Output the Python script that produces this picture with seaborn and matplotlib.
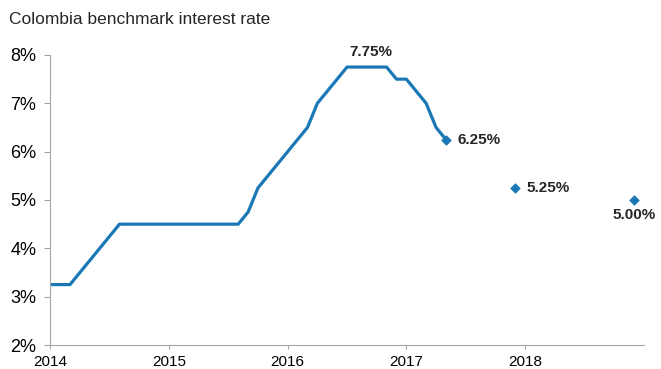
import matplotlib
matplotlib.use("Agg")
import matplotlib.pyplot as plt
import seaborn as sns
import pandas as pd
import numpy as np

# Monthly policy rate (month index counted from Jan 2014 = 0)
hist_month = [0, 1, 2, 3, 4, 5, 6, 7, 8, 9, 10, 11,
              12, 13, 14, 15, 16, 17, 18, 19, 20, 21, 22, 23,
              24, 25, 26, 27, 28, 29, 30, 31, 32, 33, 34, 35,
              36, 37, 38, 39, 40]
hist_rate = [3.25, 3.25, 3.25, 3.50, 3.75, 4.00, 4.25, 4.50, 4.50, 4.50, 4.50, 4.50,
             4.50, 4.50, 4.50, 4.50, 4.50, 4.50, 4.50, 4.50, 4.75, 5.25, 5.50, 5.75,
             6.00, 6.25, 6.50, 7.00, 7.25, 7.50, 7.75, 7.75, 7.75, 7.75, 7.75, 7.50,
             7.50, 7.25, 7.00, 6.50, 6.25]
point_month = [40, 47, 59]
point_rate = [6.25, 5.25, 5.00]
point_labels = ["6.25%", "5.25%", "5.00%"]
peak_label = "7.75%"
year_ticks = [2014, 2015, 2016, 2017, 2018]
y_ticks = [2, 3, 4, 5, 6, 7, 8]
title = "Colombia benchmark interest rate"

hist = pd.DataFrame({"x": 2014 + np.array(hist_month) / 12.0, "rate": hist_rate})
pts = pd.DataFrame({"x": 2014 + np.array(point_month) / 12.0, "rate": point_rate})

sns.set_style("white")
plt.rcParams["font.family"] = ["Liberation Sans", "DejaVu Sans"]
color = "#1A78B6"

fig = plt.figure(figsize=(6.61, 3.69), dpi=100)
ax = fig.add_axes([0.076, 0.065, 0.898, 0.786])

sns.lineplot(data=hist, x="x", y="rate", ax=ax, color=color, linewidth=2.3)
sns.scatterplot(data=pts, x="x", y="rate", ax=ax, color=color, marker="D",
                s=24, edgecolor=color, linewidth=0.5, zorder=5)

ax.set_xlim(2014, 2019)
ax.set_ylim(2, 8)
ax.set_xticks(year_ticks)
ax.set_xticklabels([str(y) for y in year_ticks], fontsize=11)
ax.set_yticks(y_ticks)
ax.set_yticklabels([f"{v}%" for v in y_ticks], fontsize=13)
ax.set_xlabel("")
ax.set_ylabel("")

for s in ["top", "right"]:
    ax.spines[s].set_visible(False)
for s in ["left", "bottom"]:
    ax.spines[s].set_color("#A6A6A6")
    ax.spines[s].set_linewidth(0.8)
ax.tick_params(axis="y", which="both", direction="out", length=4,
               color="#A6A6A6", width=0.8, pad=6, left=True,
               labelcolor="black")
ax.tick_params(axis="x", which="both", direction="out", length=3,
               color="#A6A6A6", width=0.8, pad=4, bottom=True,
               labelcolor="black")

# annotations
peak_x = hist["x"][hist["rate"].idxmax()]
ax.annotate(peak_label, (peak_x + 2 / 12, 7.75), xytext=(3, 6), textcoords="offset points",
            ha="center", va="bottom", fontsize=11, fontweight="bold")
for (x, y, lab, i) in zip(pts["x"], pts["rate"], point_labels, range(3)):
    if i < 2:
        ax.annotate(lab, (x, y), xytext=(8, 0), textcoords="offset points",
                    ha="left", va="center", fontsize=11, fontweight="bold")
    else:
        ax.annotate(lab, (x, y), xytext=(0, -6), textcoords="offset points",
                    ha="center", va="top", fontsize=11, fontweight="bold")

fig.text(0.014, 0.948, title, fontsize=12.5, ha="left", va="center")

fig.savefig("out.png", dpi=100)
